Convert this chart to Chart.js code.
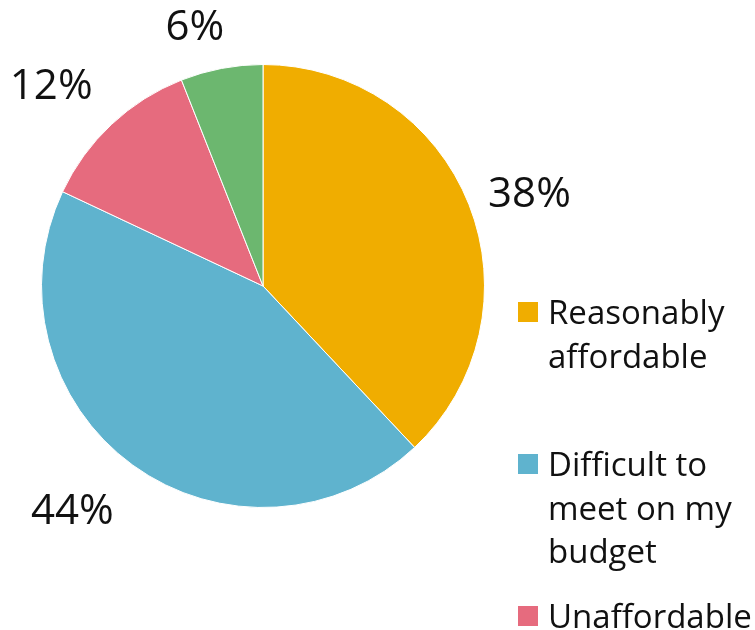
<!DOCTYPE html>
<html lang="en">
<head>
  <meta charset="UTF-8" />
  <title>Affordability pie</title>
  <script src="https://cdn.jsdelivr.net/npm/chart.js"></script>
  <style>
    body {
      margin: 0;
      background: white;
      font-family: 'Open Sans', sans-serif;
      overflow: hidden;
    }
    .wrap {
      position: relative;
      width: 755px;
      height: 630px;
      overflow: hidden;
    }
    #legend {
      position: absolute;
      left: 518px;
      top: 290px;
      font-size: 33px;
      line-height: 43.5px;
      color: #111;
      white-space: nowrap;
    }
    .item {
      position: relative;
      height: 152px;
      padding-left: 30px;
    }
    .item span.box {
      position: absolute;
      left: 0;
      top: 12px;
      width: 20px;
      height: 20px;
    }
  </style>
</head>
<body>
  <div class="wrap">
    <canvas id="pie" width="755" height="630"></canvas>
    <div id="legend"></div>
  </div>

  <script>
    const labels = ["Reasonably affordable", "Difficult to meet on my budget", "Unaffordable", "Don't know"];
    const legendLines = [["Reasonably", "affordable"], ["Difficult to", "meet on my", "budget"], ["Unaffordable"], ["Don't know"]];
    const values = [38, 44, 12, 6];
    const colors = ["#F0AD00", "#5FB3CE", "#E66B7E", "#6CB76F"];

    // label placement (best-fit like the original): extra radius and angle nudge in degrees
    const labelGap = [60, 74, 69, 45];
    const labelTurn = [2.8, 4.2, -3.6, -4.0];

    const outsideLabels = {
      id: 'outsideLabels',
      afterDatasetsDraw(chart) {
        const ctx = chart.ctx;
        const meta = chart.getDatasetMeta(0);
        ctx.save();
        ctx.font = "42px 'Open Sans', sans-serif";
        ctx.fillStyle = '#111';
        ctx.textAlign = 'center';
        ctx.textBaseline = 'middle';
        meta.data.forEach((arc, i) => {
          const mid = (arc.startAngle + arc.endAngle) / 2 + labelTurn[i] * Math.PI / 180;
          const d = arc.outerRadius + labelGap[i];
          const x = arc.x + Math.cos(mid) * d;
          const y = arc.y + Math.sin(mid) * d;
          ctx.fillText(values[i] + '%', x, y);
        });
        ctx.restore();
      }
    };

    new Chart(document.getElementById('pie'), {
      type: 'pie',
      data: {
        labels: labels,
        datasets: [{
          data: values,
          backgroundColor: colors,
          borderColor: '#ffffff',
          borderWidth: 1
        }]
      },
      options: {
        responsive: false,
        animation: false,
        layout: { padding: { left: 41, right: 270, top: 64, bottom: 122 } },
        plugins: {
          legend: { display: false },
          tooltip: { enabled: false }
        }
      },
      plugins: [outsideLabels]
    });

    // legend built from the same arrays
    const legend = document.getElementById('legend');
    labels.forEach((l, i) => {
      const div = document.createElement('div');
      div.className = 'item';
      div.innerHTML = '<span class="box" style="background:' + colors[i] + '"></span>' + legendLines[i].join('<br>');
      legend.appendChild(div);
    });
  </script>
</body>
</html>
